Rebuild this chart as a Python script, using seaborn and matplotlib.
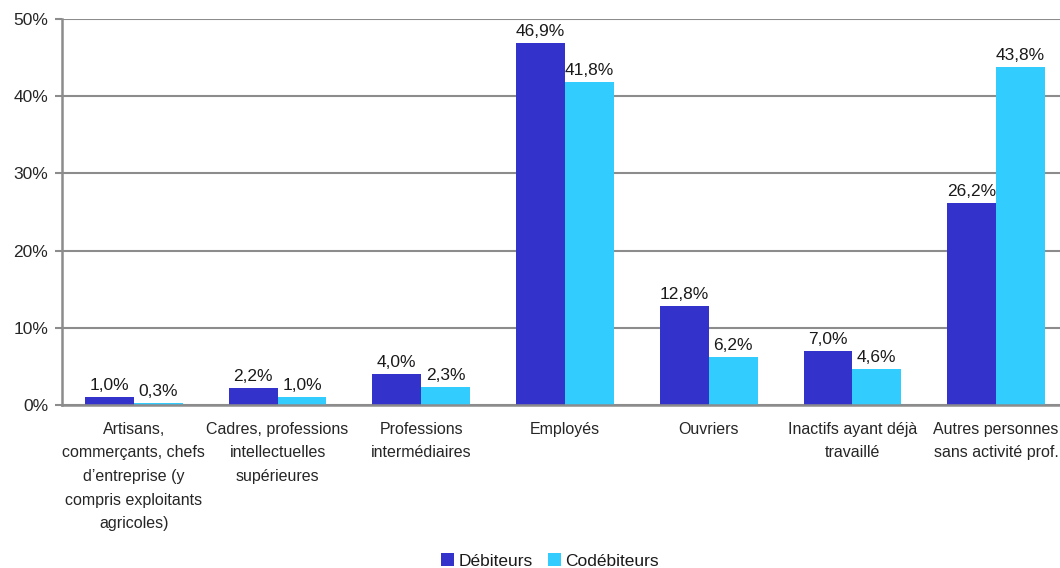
import matplotlib
matplotlib.use("Agg")
import matplotlib.pyplot as plt
from matplotlib.patches import Patch
import seaborn as sns
import pandas as pd

categories = [
    "Artisans,\ncommerçants, chefs\nd\u2019entreprise (y\ncompris exploitants\nagricoles)",
    "Cadres, professions\nintellectuelles\nsupérieures",
    "Professions\nintermédiaires",
    "Employés",
    "Ouvriers",
    "Inactifs ayant déjà\ntravaillé",
    "Autres personnes\nsans activité prof.",
]
debiteurs = [1.0, 2.2, 4.0, 46.9, 12.8, 7.0, 26.2]
codebiteurs = [0.3, 1.0, 2.3, 41.8, 6.2, 4.6, 43.8]
series_names = ["Débiteurs", "Codébiteurs"]
y_ticks = [0, 10, 20, 30, 40, 50]

colors = ["#3333CC", "#33CCFF"]
grid_color = "#8C8C8C"

sns.set_theme(style="white")
plt.rcParams["font.family"] = ["Liberation Sans", "DejaVu Sans"]
plt.rcParams["text.color"] = "#1a1a1a"

df = pd.DataFrame({
    "cat": categories * 2,
    "val": debiteurs + codebiteurs,
    "serie": [series_names[0]] * len(categories) + [series_names[1]] * len(categories),
})

fig = plt.figure(figsize=(10.6, 5.68), dpi=100)
ax = fig.add_axes([62 / 1060, 163 / 568, 1006 / 1060, 386 / 568])

sns.barplot(data=df, x="cat", y="val", hue="serie", palette=colors,
            width=0.68, saturation=1, ax=ax, legend=False, errorbar=None,
            linewidth=0, edgecolor="none")

ax.set_ylim(0, 50)
ax.set_xlim(-0.5, len(categories) - 0.5)
ax.set_yticks(y_ticks)
ax.set_yticklabels([f"{t}%" for t in y_ticks], fontsize=12.5)
ax.yaxis.grid(True, color=grid_color, linewidth=1.5)
ax.set_axisbelow(True)
ax.set_xlabel("")
ax.set_ylabel("")
ax.tick_params(axis="y", length=5, width=1.5, color=grid_color, direction="out", pad=5, left=True)
ax.tick_params(axis="x", length=0, pad=12, labelsize=11.5)
for lbl in ax.get_xticklabels():
    lbl.set_linespacing(1.72)
    lbl.set_verticalalignment("top")

for side in ["top", "right"]:
    ax.spines[side].set_visible(False)
for side in ["left", "bottom"]:
    ax.spines[side].set_color(grid_color)
    ax.spines[side].set_linewidth(1.8)

for container in ax.containers:
    ax.bar_label(container, labels=[f"{v:.1f}%".replace(".", ",") for v in container.datavalues],
                 padding=3, fontsize=12.5)

handles = [Patch(facecolor=c, edgecolor="none") for c in colors]
fig.legend(handles, series_names, loc="center", bbox_to_anchor=(550 / 1060, 1 - 561 / 568),
           ncol=2, frameon=False, fontsize=12.5, handlelength=0.75, handleheight=0.75,
           handletextpad=0.25, columnspacing=0.9)

fig.savefig("out.png", dpi=100)
